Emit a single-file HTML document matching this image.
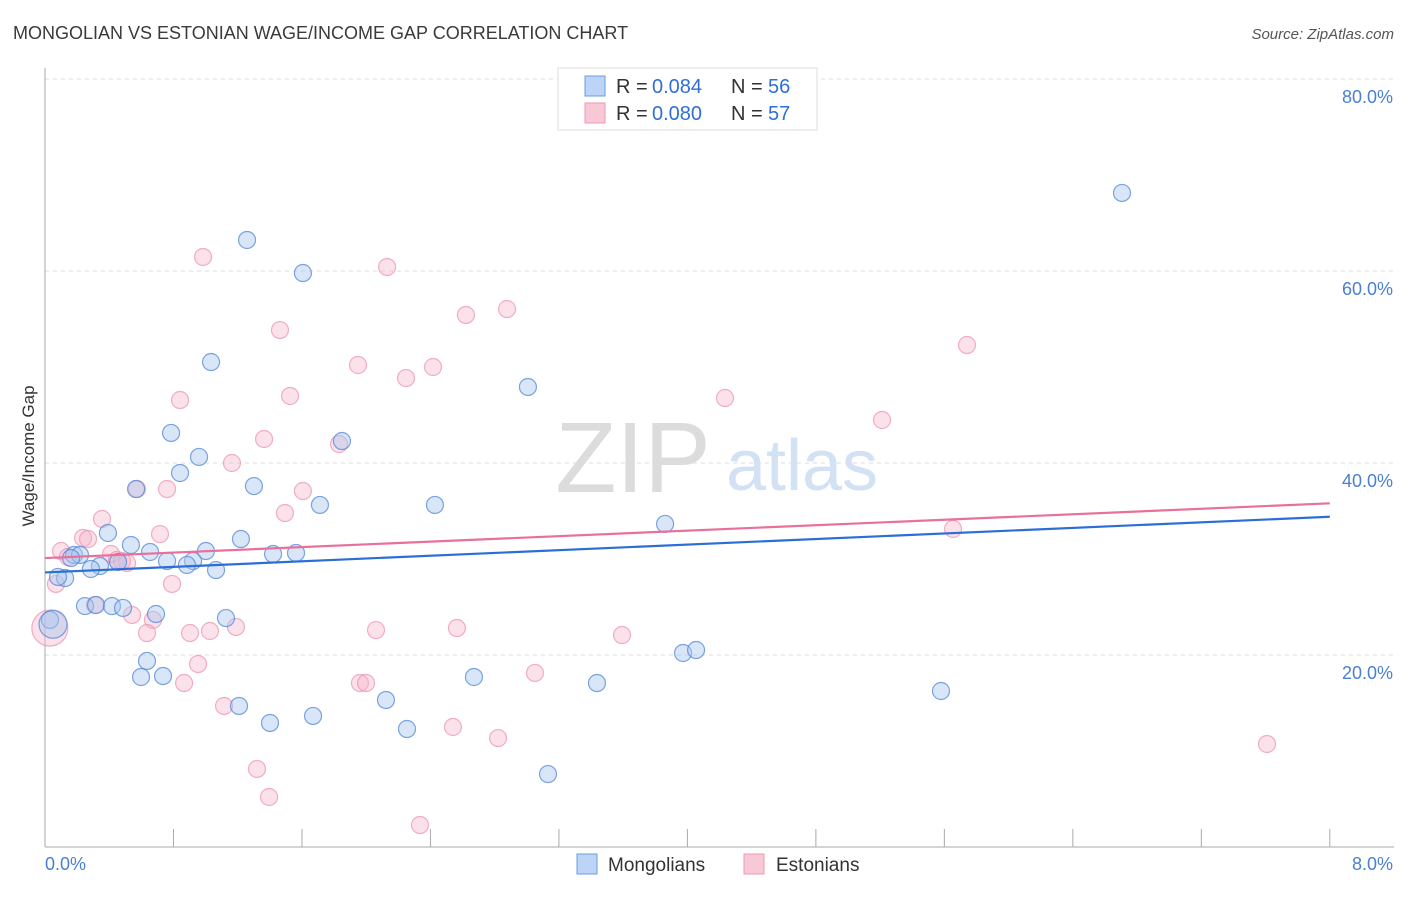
<!DOCTYPE html>
<html><head><meta charset="utf-8"><style>
body{margin:0;background:#fff;font-family:"Liberation Sans",sans-serif;}
svg text{font-family:"Liberation Sans",sans-serif;}
</style></head><body>
<svg width="1406" height="892">
<text x="13" y="39" font-size="18" fill="#3a3a3a">MONGOLIAN VS ESTONIAN WAGE/INCOME GAP CORRELATION CHART</text>
<text x="1394" y="39" font-size="15" fill="#555" font-style="italic" text-anchor="end">Source: ZipAtlas.com</text>
<g id="grid"></g>
<text x="633" y="492" font-size="100" fill="#dcdcdc" font-family="Liberation Serif" text-anchor="middle">ZIP</text>
<text x="802" y="490" font-size="72" fill="#d2e1f3" text-anchor="middle">atlas</text>
<line x1="45" y1="68" x2="45" y2="847" stroke="#aaa"/>
<line x1="45" y1="847" x2="1394" y2="847" stroke="#aaa"/>
<text transform="translate(34,456) rotate(-90)" font-size="17" fill="#333" text-anchor="middle">Wage/Income Gap</text>
<text x="45" y="870" font-size="18" fill="#4a7fd4">0.0%</text>
<text x="1393" y="870" font-size="18" fill="#4a7fd4" text-anchor="end">8.0%</text>
<g id="pts"></g>
<g id="lines"></g>
<g>
<rect x="558" y="68" width="259" height="62" fill="#fff" stroke="#ddd"/>
<rect x="585" y="76" width="20" height="20" fill="#bcd4f5" stroke="#6a9be0"/>
<rect x="585" y="103" width="20" height="20" fill="#f9c8d6" stroke="#ec9ab3"/>
<text x="616" y="93" font-size="20" fill="#333">R =</text>
<text x="652" y="93" font-size="20" fill="#2f6fd6">0.084</text>
<text x="731" y="93" font-size="20" fill="#333">N =</text>
<text x="768" y="93" font-size="20" fill="#2f6fd6">56</text>
<text x="616" y="120" font-size="20" fill="#333">R =</text>
<text x="652" y="120" font-size="20" fill="#2f6fd6">0.080</text>
<text x="731" y="120" font-size="20" fill="#333">N =</text>
<text x="768" y="120" font-size="20" fill="#2f6fd6">57</text>
</g>
<g>
<rect x="577" y="854" width="20" height="20" fill="#bcd4f5" stroke="#6a9be0"/>
<text x="608" y="871" font-size="19" fill="#333">Mongolians</text>
<rect x="744" y="854" width="20" height="20" fill="#f9c8d6" stroke="#ec9ab3"/>
<text x="776" y="871" font-size="19" fill="#333">Estonians</text>
</g>
</svg>
<script>
const yTicks=[20,40,60,80];
const xTickVals=[0.8,1.6,2.4,3.2,4.0,4.8,5.6,6.4,7.2,8.0];
const bluePx=[[1122,193],[247,240],[303,273],[211,362],[528,387],[171,433],[342,441],[199,457],[180,473],[136,489],[254,486],[320,505],[435,505],[665,524],[108,533],[241,539],[131,545],[150,552],[206,551],[273,554],[296,553],[74,555],[80,555],[167,561],[193,561],[187,565],[100,566],[91,569],[216,570],[65,578],[58,577],[85,606],[96,605],[112,606],[123,608],[156,614],[226,618],[50,620],[147,661],[141,677],[163,676],[683,653],[696,650],[474,677],[597,683],[941,691],[386,700],[239,706],[270,723],[313,716],[407,729],[548,774],[118,562],[71,558]];
const pinkPx=[[203,257],[387,267],[280,330],[466,315],[507,309],[967,345],[358,365],[406,378],[433,367],[725,398],[180,400],[290,396],[882,420],[264,439],[339,444],[232,463],[137,489],[167,489],[303,491],[285,513],[102,519],[160,534],[83,538],[88,539],[953,529],[61,551],[68,557],[111,554],[117,560],[127,563],[56,584],[95,605],[172,584],[132,615],[153,620],[147,633],[190,633],[210,631],[236,627],[376,630],[457,628],[622,635],[198,664],[184,683],[360,683],[366,683],[535,673],[224,706],[453,727],[498,738],[257,769],[269,797],[420,825],[1267,744],[122,561]];
const blueX=bluePx.map(p=>+((p[0]-45)/160.6).toFixed(3)), blueY=bluePx.map(p=>+((847-p[1])/9.6).toFixed(2));
const pinkX=pinkPx.map(p=>+((p[0]-45)/160.6).toFixed(3)), pinkY=pinkPx.map(p=>+((847-p[1])/9.6).toFixed(2));
const bigBlue=[[0.05,23.2]], bigPink=[[0.03,22.8]];
const blueTrend=[28.6,34.4], pinkTrend=[30.1,35.8];
const X=v=>45+v*160.6, Y=v=>847-v*9.6;
const ns='http://www.w3.org/2000/svg';
function mk(t,a,p){const e=document.createElementNS(ns,t);for(const k in a)e.setAttribute(k,a[k]);p.appendChild(e);return e;}
const g=document.getElementById('grid');
yTicks.forEach(t=>{
 const l=mk('line',{x1:45,x2:1394,y1:Y(t),y2:Y(t),stroke:'#ddd','stroke-dasharray':'4,4'},g);
 
 
 const tx=mk('text',{x:1393,y:Y(t)+24,'font-size':18,fill:'#4a7fd4','text-anchor':'end'},g);tx.textContent=t.toFixed(1)+'%';
 
 
});
xTickVals.forEach(t=>{
 const l=mk('line',{x1:X(t),x2:X(t),y1:829,y2:847,stroke:'#aaa'},g);
 
 
});
const pg=document.getElementById('pts');
function dot(x,y,r,c){
 const fill=c?'rgba(170,200,240,0.45)':'rgba(246,180,202,0.4)', st=c?'rgba(80,135,215,0.75)':'rgba(236,150,180,0.75)';
 const e=mk('circle',{cx:X(x),cy:Y(y),r:r,fill:fill,stroke:st,'stroke-width':1.2},pg);
 
 
}
pinkX.forEach((x,i)=>dot(x,pinkY[i],8.5,false));
bigPink.forEach(p=>dot(p[0],p[1],18,false));
blueX.forEach((x,i)=>dot(x,blueY[i],8.5,true));
bigBlue.forEach(p=>dot(p[0],p[1],14,true));
const lg=document.getElementById('lines');
const bl=mk('line',{x1:X(0),x2:X(8),y1:Y(blueTrend[0]),y2:Y(blueTrend[1]),stroke:'#2a6fd6','stroke-width':2.2},lg);


const pl=mk('line',{x1:X(0),x2:X(8),y1:Y(pinkTrend[0]),y2:Y(pinkTrend[1]),stroke:'#e8709a','stroke-width':2.2},lg);


</script>
</body></html>
